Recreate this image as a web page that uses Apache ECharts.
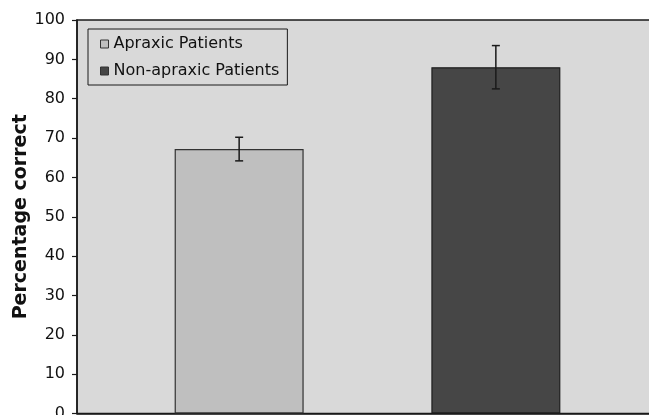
<!DOCTYPE html>
<html>
<head>
<meta charset="utf-8">
<script src="https://cdn.jsdelivr.net/npm/echarts@6/dist/echarts.min.js"></script>
<style>
html,body{margin:0;padding:0;background:#fff;}
#c{width:649px;height:415px;}
</style>
</head>
<body>
<div id="c"></div>
<script>
// ---- data ----
var categories = [''];
var seriesNames = ['Apraxic Patients', 'Non-apraxic Patients'];
var means = [67.2, 88.0];
var errors = [3.0, 5.5];
var yTicks = { min: 0, max: 100, interval: 10 };

// ---- layout/style ----
var BAR_W = 129;
var GAP_RATIO = 0.99;
var colors = ['#bfbfbf', '#464646'];
var borders = ['#333333', '#1e1e1e'];
var FONT = 'DejaVu Sans';

var chart = echarts.init(document.getElementById('c'), null, { renderer: 'canvas' });

var barSeries = seriesNames.map(function (name, i) {
  return {
    name: name,
    type: 'bar',
    data: [means[i]],
    barWidth: BAR_W,
    barGap: (GAP_RATIO * 100) + '%',
    itemStyle: { color: colors[i], borderColor: borders[i], borderWidth: 1.2 },
    emphasis: { disabled: true },
    z: 2
  };
});

var offset = (BAR_W + BAR_W * GAP_RATIO) / 2;
var errData = means.map(function (m, i) { return [0, m - errors[i], m + errors[i], i]; });

var errSeries = {
  type: 'custom',
  name: 'err',
  data: errData,
  z: 5,
  renderItem: function (params, api) {
    var idx = api.value(3);
    var lo = api.coord([api.value(0), api.value(1)]);
    var hi = api.coord([api.value(0), api.value(2)]);
    var x = lo[0] + (idx === 0 ? -offset : offset);
    var hw = 4;
    var st = { stroke: '#1a1a1a', lineWidth: 1.5 };
    return {
      type: 'group',
      children: [
        { type: 'line', shape: { x1: x, y1: hi[1], x2: x, y2: lo[1] }, style: st },
        { type: 'line', shape: { x1: x - hw, y1: hi[1], x2: x + hw, y2: hi[1] }, style: st },
        { type: 'line', shape: { x1: x - hw, y1: lo[1], x2: x + hw, y2: lo[1] }, style: st }
      ]
    };
  }
};

chart.setOption({
  animation: false,
  backgroundColor: '#ffffff',
  grid: {
    left: 77, top: 20, width: 581, bottom: 1.5,
    containLabel: false,
    outerBoundsMode: 'none',
    show: true, backgroundColor: '#d9d9d9', borderColor: '#1a1a1a', borderWidth: 1.5
  },
  legend: {
    left: 88, top: 29,
    orient: 'vertical',
    data: seriesNames,
    icon: 'rect',
    itemWidth: 8, itemHeight: 8,
    itemGap: 9,
    padding: [6, 8, 5, 12],
    backgroundColor: '#d9d9d9',
    borderColor: '#1a1a1a',
    borderWidth: 1,
    borderRadius: 0,
    selectedMode: false,
    textStyle: { fontFamily: FONT, fontSize: 16, color: '#111', lineHeight: 18 },
    itemStyle: { borderColor: '#333', borderWidth: 1 }
  },
  xAxis: {
    type: 'category',
    data: categories,
    axisLine: { show: true, lineStyle: { color: '#1a1a1a', width: 1.5 } },
    axisTick: { show: false },
    axisLabel: { show: false },
    splitLine: { show: false }
  },
  yAxis: {
    type: 'value',
    min: yTicks.min, max: yTicks.max, interval: yTicks.interval,
    name: 'Percentage correct',
    nameLocation: 'middle',
    nameRotate: 90,
    nameGap: 46,
    nameMoveOverlap: false,
    nameTextStyle: { fontFamily: FONT, fontSize: 19, fontWeight: 'bold', color: '#111' },
    axisLine: { show: true, lineStyle: { color: '#1a1a1a', width: 1.5 } },
    axisTick: { show: true, length: 5, inside: false, lineStyle: { color: '#1a1a1a', width: 1.2 } },
    axisLabel: { fontFamily: FONT, fontSize: 16, color: '#111', margin: 12 },
    splitLine: { show: false }
  },
  series: barSeries.concat([errSeries])
});
</script>
</body>
</html>
